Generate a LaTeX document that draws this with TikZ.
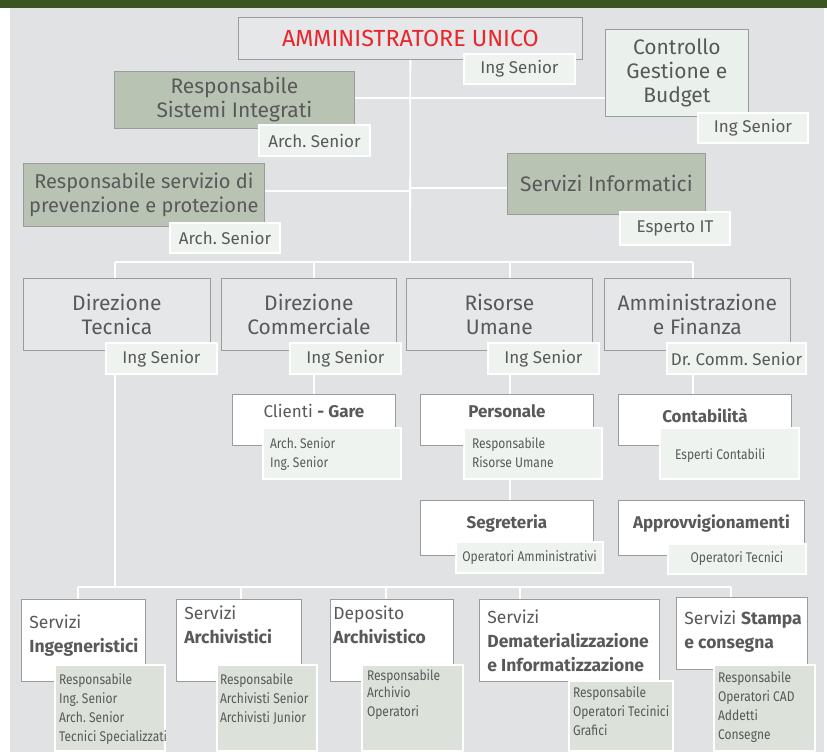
\documentclass[tikz,border=0pt]{standalone}
\usepackage{fontspec}
\setmainfont{Fira Sans}
\newfontfamily\narrowfont[FakeStretch=0.86]{Fira Sans}
\frenchspacing

\definecolor{band}{HTML}{3A5422}
\definecolor{panel}{HTML}{E1E2E4}
\definecolor{unitfill}{HTML}{E6E7E9}
\definecolor{staffgreen}{HTML}{B8C3B4}
\definecolor{ctrlfill}{HTML}{EAF0EC}
\definecolor{rolefill}{HTML}{EEF3F0}
\definecolor{detailfill}{HTML}{DCE1DA}
\definecolor{boxline}{HTML}{9A9B9C}
\definecolor{ink}{HTML}{595959}
\definecolor{topred}{HTML}{E8262B}

\begin{document}
\begin{tikzpicture}
        [x=1pt, y=-1pt,
         unit/.style={draw=boxline, line width=0.8pt, fill=unitfill, text=ink,
                      inner sep=0pt, anchor=north west, align=center,
                      font=\fontsize{21}{24}\selectfont},
         staff/.style={unit, fill=staffgreen},
         office/.style={unit, fill=white, font=\fontsize{17}{20}\selectfont},
         service/.style={unit, fill=white, align=flush left, inner xsep=8pt,
                         font=\fontsize{17.5}{24}\selectfont},
         role/.style={draw=white, line width=2pt, fill=rolefill, text=ink,
                      inner sep=0pt, anchor=north west,
                      font=\fontsize{17}{20}\selectfont},
         note/.style={role, align=flush left, font=\narrowfont\fontsize{14}{19}\selectfont},
         detail/.style={note, fill=detailfill},
         link/.style={draw=white, line width=1.8pt}]

        \useasboundingbox (0,0) rectangle (827,753);
        \fill[white] (0,0) rectangle (827,753);
        \fill[panel] (10,8) rectangle (824,752);
        \fill[band] (0,0) rectangle (827,8);

        % vertice e staff
        \node[unit, minimum width=344, minimum height=42, text=topred,
              font=\fontsize{23.3}{24}\selectfont] (amu) at (238,17) {AMMINISTRATORE UNICO};
        \node[role, minimum width=111, minimum height=30] (amu-role) at (463,53) {Ing Senior};

        \node[staff, minimum width=240, minimum height=57] (integrati) at (114,71)
                {Responsabile\\Sistemi Integrati};
        \node[role, minimum width=111, minimum height=31] (integrati-role) at (258,124) {Arch. Senior};
        \node[staff, minimum width=241, minimum height=63, font=\fontsize{20}{23.5}\selectfont]
                (prevenzione) at (23,163) {Responsabile servizio di\\prevenzione e protezione};
        \node[role, minimum width=110, minimum height=30] (prevenzione-role) at (169,222) {Arch. Senior};
        \node[unit, fill=ctrlfill, minimum width=143, minimum height=87] (controllo) at (605,29)
                {Controllo\\Gestione e\\Budget};
        \node[role, minimum width=110, minimum height=30] (controllo-role) at (697,112) {Ing Senior};
        \node[staff, minimum width=198, minimum height=61] (informatici) at (507,153) {Servizi Informatici};
        \node[role, minimum width=110, minimum height=33] (informatici-role) at (619,211) {Esperto IT};

        % direzioni
        \node[unit, minimum width=187, minimum height=72] (tecnica) at (23,278) {Direzione\\Tecnica};
        \node[role, minimum width=111, minimum height=31] (tecnica-role) at (105,342) {Ing Senior};
        \node[unit, minimum width=175, minimum height=72] (commerciale) at (221,278) {Direzione\\Commerciale};
        \node[role, minimum width=111, minimum height=31] (commerciale-role) at (289,342) {Ing Senior};
        \node[unit, minimum width=186, minimum height=72] (risorse) at (406,278) {Risorse\\Umane};
        \node[role, minimum width=111, minimum height=31] (risorse-role) at (487,342) {Ing Senior};
        \node[unit, minimum width=186, minimum height=72] (finanza) at (604,278) {Amministrazione\\e Finanza};
        \node[role, minimum width=139, minimum height=31] (finanza-role) at (666,342) {Dr. Comm. Senior};

        % uffici
        \node[office, minimum width=163, minimum height=51, text height=23pt, text depth=28pt]
                (gare) at (232,394) {Clienti \textbf{- Gare}};
        \node[note, minimum width=138, minimum height=51, inner xsep=7pt, text width=124,
              text height=20pt, text depth=31pt] (gare-role) at (262,427) {Arch. Senior\\Ing. Senior};
        \node[office, minimum width=173, minimum height=51, text height=23pt, text depth=28pt]
                (personale) at (420,394) {\textbf{Personale}};
        \node[note, minimum width=138, minimum height=51, inner xsep=8pt, text width=122,
              text height=20pt, text depth=31pt] (personale-role) at (463,427) {Responsabile\\Risorse Umane};
        \node[office, minimum width=173, minimum height=55, text height=28pt, text depth=27pt]
                (segreteria) at (420,500) {\textbf{Segreteria}};
        \node[note, minimum width=147, minimum height=31, align=center]
                (segreteria-role) at (455,541) {Operatori Amministrativi};
        \node[office, minimum width=173, minimum height=51, text height=28pt, text depth=23pt]
                (contabilita) at (618,394) {\textbf{Contabilità}};
        \node[note, minimum width=139, minimum height=51, inner xsep=15pt, text width=109,
              text height=31pt, text depth=20pt] (contabilita-role) at (659,427) {Esperti Contabili};
        \node[office, minimum width=186, minimum height=55, text height=28pt, text depth=27pt]
                (approvvigionamenti) at (618,500) {\textbf{Approvvigionamenti}};
        \node[note, minimum width=138, minimum height=30, align=center]
                (approvvigionamenti-role) at (667,543) {Operatori Tecnici};

        % servizi operativi
        \node[service, minimum width=124, minimum height=82, text width=108,
              text height=29pt, text depth=53pt] (ingegneria) at (21,599) {Servizi\\\textbf{Ingegneristici}};
        \node[detail, minimum width=110, minimum height=86, inner xsep=4pt, text width=102,
              text height=19pt, text depth=67pt] (ingegneria-staff) at (54,664)
                {Responsabile\\Ing. Senior\\Arch. Senior\\\mbox{Tecnici Specializzati}};
        \node[service, minimum width=125, minimum height=82, text width=109,
              text height=20pt, text depth=62pt] (archivistici) at (176,599) {Servizi\\\textbf{Archivistici}};
        \node[detail, minimum width=100, minimum height=86, inner xsep=3pt, text width=94,
              text height=19pt, text depth=67pt] (archivistici-staff) at (216,664)
                {Responsabile\\Archivisti Senior\\Archivisti Junior};
        \node[service, minimum width=123, minimum height=82, inner xsep=3pt, text width=117,
              text height=20pt, text depth=62pt] (deposito) at (330,599) {Deposito\\\textbf{Archivistico}};
        \node[detail, minimum width=101, minimum height=86, inner xsep=5pt, text width=91,
              text height=15pt, text depth=71pt] (deposito-staff) at (361,664)
                {Responsabile\\[-2pt]Archivio\\Operatori};
        \node[service, minimum width=180, minimum height=82, text width=164,
              text height=24pt, text depth=58pt] (demat) at (479,599)
                {Servizi\\\textbf{Dematerializzazione}\\\textbf{e Informatizzazione}};
        \node[detail, minimum width=104, minimum height=70, inner xsep=4pt, text width=96,
              text height=16pt, text depth=54pt] (demat-staff) at (568,680)
                {Responsabile\\\mbox{Operatori Tecinici}\\Grafici};
        \node[service, minimum width=131, minimum height=72, text width=115,
              text height=27pt, text depth=45pt] (stampa) at (676,597)
                {\mbox{Servizi \textbf{Stampa}}\\\textbf{e consegna}};
        \node[detail, minimum width=101, minimum height=86, inner xsep=4pt, text width=93,
              text height=17pt, text depth=69pt] (stampa-staff) at (713,664)
                {Responsabile\\Operatori CAD\\Addetti\\Consegne};

        % collegamenti
        \coordinate (hub) at (410,262);
        \coordinate (staff-a) at (410,98);
        \coordinate (staff-b) at (410,191);
        \coordinate (staff-c) at (410,188);
        \draw[link] (amu) -- (hub);
        \draw[link] (integrati.east |- staff-a) -- (controllo.west |- staff-a);
        \draw[link] (prevenzione.east |- staff-b) -- (staff-b);
        \draw[link] (staff-c) -- (informatici.west |- staff-c);

        \coordinate (tecnica-drop) at (115,262);
        \coordinate (commerciale-drop) at (314,262);
        \coordinate (risorse-drop) at (510,262);
        \coordinate (finanza-drop) at (693,262);
        \draw[link] (tecnica-drop) -- (finanza-drop);
        \foreach \n in {tecnica,commerciale,risorse,finanza}
                \draw[link] (\n-drop) -- (\n.north -| \n-drop);

        \draw[link] (commerciale-role.south -| commerciale-drop) -- (gare.north -| commerciale-drop);
        \draw[link] (risorse-role.south -| risorse-drop) -- (personale.north -| risorse-drop);
        \draw[link] (personale-role.south -| risorse-drop) -- (segreteria.north -| risorse-drop);
        \draw[link] (finanza-role.south -| finanza-drop) -- (contabilita.north -| finanza-drop);

        \coordinate (base) at (115,587);
        \coordinate (ingegneria-drop) at (78,587);
        \coordinate (archivistici-drop) at (241,587);
        \coordinate (deposito-drop) at (386,587);
        \coordinate (demat-drop) at (520,587);
        \coordinate (stampa-drop) at (731,587);
        \draw[link] (tecnica-role.south -| base) -- (base);
        \draw[link] (ingegneria-drop) -- (stampa-drop);
        \foreach \n in {ingegneria,archivistici,deposito,demat,stampa}
                \draw[link] (\n-drop) -- (\n.north -| \n-drop);
\end{tikzpicture}
\end{document}
